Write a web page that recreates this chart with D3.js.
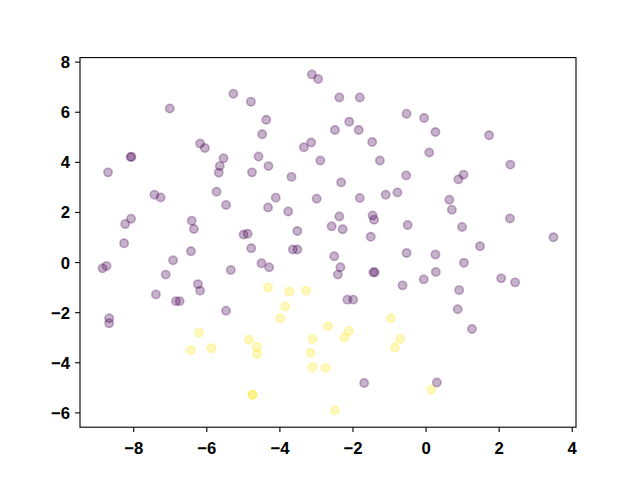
<!DOCTYPE html>
<html>
<head>
<meta charset="utf-8">
<script src="https://cdn.jsdelivr.net/npm/d3@7"></script>
<style>
  html, body { margin: 0; padding: 0; background: #fff; }
  svg { display: block; }
  .tick text { font-family: "Liberation Sans", Arial, sans-serif; font-weight: bold; font-size: 16.7px; fill: #000; }
</style>
</head>
<body>
<svg id="chart" width="640" height="480"></svg>
<script>
// class 0 (purple)
const purpleX = [-5.26,-7.00,-6.17,-6.04,-8.07,-8.05,-5.53,-5.63,-5.66,-8.69,
  -3.11,-2.94,-4.78,-2.36,-1.80,-0.52,-4.36,-2.09,-4.47,-2.48,
  -1.83,-3.13,-3.33,-1.46,-4.57,-2.88,-1.25,-4.30,-4.75,-3.67,
  -0.53,-2.31,-0.04,0.27,1.74,0.10,2.32,1.04,0.90,-7.42,
  -7.25,-5.72,-5.46,-8.06,-8.22,-6.40,-6.34,-4.98,-4.87,-8.25,
  -6.42,-6.91,-8.73,-8.84,-5.33,-7.11,-6.23,-6.17,-7.38,-6.83,
  -6.73,-4.10,-2.98,-1.80,-1.09,-0.77,-4.31,-3.76,-2.36,-1.45,
  -1.41,-2.57,-2.27,-3.51,-1.50,-0.49,-4.77,-3.63,-3.51,-2.50,
  -0.52,-4.49,-4.28,-2.33,-2.40,-1.43,-1.39,-0.63,-2.14,-1.98,
  0.65,0.72,2.31,1.00,3.50,1.49,0.27,1.05,0.28,-0.05,
  2.07,2.45,0.92,0.88,-8.66,-8.66,-5.46,-1.68,1.27,0.31];
const purpleY = [6.72,6.13,4.73,4.55,4.19,4.20,4.14,3.83,3.57,3.58,
  7.49,7.31,6.40,6.57,6.57,5.92,5.68,5.60,5.10,5.27,
  5.27,4.77,4.58,4.79,4.21,4.05,4.05,3.83,3.58,3.40,
  3.46,3.18,5.75,5.19,5.06,4.37,3.89,3.49,3.30,2.69,
  2.58,2.81,2.28,1.73,1.52,1.65,1.32,1.10,1.13,0.75,
  0.43,0.07,-0.16,-0.25,-0.32,-0.50,-0.88,-1.14,-1.29,-1.56,
  -1.56,2.57,2.53,2.56,2.69,2.78,2.18,2.02,1.82,1.86,
  1.69,1.43,1.31,1.24,1.01,1.48,0.55,0.50,0.50,0.23,
  0.36,-0.05,-0.21,-0.21,-0.50,-0.41,-0.41,-0.93,-1.50,-1.50,
  2.49,2.09,1.74,1.40,0.99,0.63,0.30,-0.03,-0.40,-0.69,
  -0.65,-0.81,-1.12,-1.88,-2.24,-2.44,-1.94,-4.83,-2.67,-4.81];
// class 1 (yellow)
const yellowX = [-3.84,-4.31,-3.73,-3.27,-3.97,-0.95,-2.67,-2.10,-2.22,-0.69,
  -0.84,-4.83,-4.62,-4.61,-3.09,-3.15,-3.09,-2.74,-4.74,-4.73,
  -2.48,-6.20,-6.42,-5.86,0.16];
const yellowY = [-1.77,-1.01,-1.17,-1.14,-2.24,-2.24,-2.55,-2.75,-3.01,-3.07,
  -3.41,-3.10,-3.39,-3.67,-3.07,-3.63,-4.20,-4.23,-5.29,-5.30,
  -5.92,-2.82,-3.52,-3.44,-5.09];
const xTicks = [-8,-6,-4,-2,0,2,4];
const yTicks = [-6,-4,-2,0,2,4,6,8];
const colors = ["#440154", "#fde725"];

const plotL = 80, plotR = 576, plotT = 57.6, plotB = 427.2;

const allX = purpleX.concat(yellowX), allY = purpleY.concat(yellowY);
function padded(arr) {
  const [a, b] = d3.extent(arr); const m = (b - a) * 0.05; return [a - m, b + m];
}
const x = d3.scaleLinear().domain(padded(allX)).range([plotL, plotR]);
const y = d3.scaleLinear().domain(padded(allY)).range([plotB, plotT]);

const svg = d3.select("#chart");

const pts = yellowX.map((v, i) => ({x: v, y: yellowY[i], c: 1}))
  .concat(purpleX.map((v, i) => ({x: v, y: purpleY[i], c: 0})));

svg.append("g").selectAll("circle").data(pts).join("circle")
  .attr("cx", d => x(d.x)).attr("cy", d => y(d.y)).attr("r", 4.17)
  .attr("fill", d => colors[d.c]).attr("fill-opacity", 0.3)
  .attr("stroke", d => colors[d.c]).attr("stroke-opacity", 0.3)
  .attr("stroke-width", 1.6);

const fmt = d => d < 0 ? "\u2212" + Math.abs(d) : String(d);

const xAxis = svg.append("g").attr("transform", `translate(0,${plotB})`)
  .call(d3.axisBottom(x).tickValues(xTicks).tickSize(4.9).tickPadding(6).tickFormat(fmt));
xAxis.select(".domain").remove();
xAxis.selectAll(".tick line").attr("stroke", "#000").attr("stroke-width", 1.1);
xAxis.selectAll(".tick text").attr("dy", null).attr("y", 27).attr("dominant-baseline", "alphabetic");

const yAxis = svg.append("g").attr("transform", `translate(${plotL},0)`)
  .call(d3.axisLeft(y).tickValues(yTicks).tickSize(4.9).tickPadding(5).tickFormat(fmt));
yAxis.select(".domain").remove();
yAxis.selectAll(".tick line").attr("stroke", "#000").attr("stroke-width", 1.1);
yAxis.selectAll(".tick text").attr("dy", null).attr("y", 6).attr("dominant-baseline", "alphabetic");

svg.append("rect").attr("x", plotL).attr("y", plotT)
  .attr("width", plotR - plotL).attr("height", plotB - plotT)
  .attr("fill", "none").attr("stroke", "#000").attr("stroke-width", 1.1);
</script>
</body>
</html>
